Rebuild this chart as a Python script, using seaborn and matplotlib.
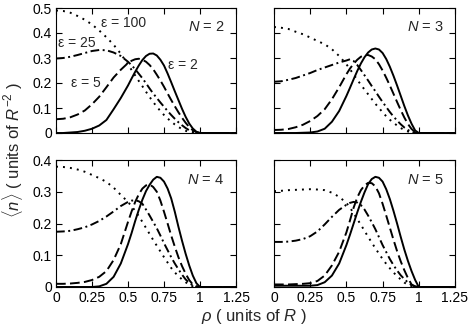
import numpy as np
import pandas as pd
import matplotlib
matplotlib.use("Agg")
import matplotlib.pyplot as plt
import seaborn as sns

# ---------------- data ----------------
rho = [0.00, 0.05, 0.10, 0.15, 0.20, 0.25, 0.30, 0.35, 0.40, 0.45,
       0.500, 0.525, 0.550, 0.575, 0.600, 0.625, 0.650, 0.675, 0.700, 0.725,
       0.750, 0.775, 0.800, 0.825, 0.850, 0.875, 0.900, 0.925, 0.950, 0.975,
       1.000, 1.25]

# N = 2
n2_eps2 = [0.000, 0.000, 0.002, 0.004, 0.009, 0.017, 0.030, 0.052, 0.095, 0.140,
           0.190, 0.218, 0.245, 0.270, 0.292, 0.308, 0.317, 0.318, 0.310, 0.293,
           0.270, 0.238, 0.203, 0.167, 0.132, 0.097, 0.065, 0.038, 0.018, 0.005,
           0.000, 0.000]
n2_eps5 = [0.055, 0.057, 0.063, 0.074, 0.090, 0.115, 0.145, 0.183, 0.222, 0.253,
           0.280, 0.289, 0.295, 0.297, 0.293, 0.285, 0.272, 0.255, 0.233, 0.210,
           0.185, 0.158, 0.132, 0.107, 0.083, 0.061, 0.041, 0.024, 0.011, 0.003,
           0.000, 0.000]
n2_eps25 = [0.298, 0.300, 0.305, 0.312, 0.320, 0.328, 0.332, 0.331, 0.322, 0.308,
            0.285, 0.271, 0.255, 0.237, 0.219, 0.199, 0.178, 0.158, 0.140, 0.122,
            0.105, 0.088, 0.072, 0.057, 0.043, 0.031, 0.020, 0.011, 0.005, 0.001,
            0.000, 0.000]
n2_eps100 = [0.490, 0.488, 0.481, 0.468, 0.453, 0.434, 0.410, 0.383, 0.353, 0.317,
             0.274, 0.252, 0.230, 0.208, 0.187, 0.165, 0.144, 0.124, 0.105, 0.088,
             0.072, 0.058, 0.046, 0.034, 0.024, 0.016, 0.009, 0.004, 0.001, 0.000,
             0.000, 0.000]

# N = 3
n3_eps2 = [0.000, 0.000, 0.000, 0.000, 0.001, 0.002, 0.006, 0.017, 0.045, 0.088,
           0.148, 0.181, 0.215, 0.248, 0.278, 0.303, 0.322, 0.334, 0.338, 0.334,
           0.320, 0.296, 0.265, 0.229, 0.190, 0.149, 0.108, 0.070, 0.037, 0.010,
           0.000, 0.000]
n3_eps5 = [0.012, 0.013, 0.016, 0.023, 0.033, 0.048, 0.068, 0.095, 0.135, 0.183,
           0.235, 0.258, 0.277, 0.293, 0.305, 0.311, 0.312, 0.306, 0.295, 0.275,
           0.250, 0.221, 0.190, 0.157, 0.124, 0.092, 0.062, 0.036, 0.016, 0.004,
           0.000, 0.000]
n3_eps25 = [0.205, 0.207, 0.213, 0.220, 0.230, 0.240, 0.252, 0.262, 0.272, 0.282,
            0.290, 0.295, 0.288, 0.272, 0.252, 0.231, 0.210, 0.188, 0.167, 0.145,
            0.124, 0.104, 0.084, 0.066, 0.050, 0.035, 0.022, 0.012, 0.004, 0.001,
            0.000, 0.000]
n3_eps100 = [0.424, 0.421, 0.416, 0.405, 0.395, 0.382, 0.368, 0.355, 0.335, 0.308,
             0.275, 0.255, 0.234, 0.213, 0.193, 0.174, 0.155, 0.136, 0.117, 0.100,
             0.083, 0.067, 0.053, 0.041, 0.030, 0.020, 0.012, 0.006, 0.002, 0.000,
             0.000, 0.000]

# N = 4
n4_eps2 = [0.000, 0.000, 0.000, 0.000, 0.000, 0.000, 0.002, 0.010, 0.032, 0.074,
           0.135, 0.170, 0.208, 0.243, 0.275, 0.302, 0.322, 0.338, 0.347, 0.344,
           0.332, 0.310, 0.279, 0.237, 0.190, 0.146, 0.105, 0.068, 0.036, 0.012,
           0.000, 0.000]
n4_eps5 = [0.010, 0.010, 0.011, 0.013, 0.016, 0.022, 0.032, 0.050, 0.085, 0.135,
           0.205, 0.238, 0.268, 0.292, 0.310, 0.320, 0.323, 0.315, 0.300, 0.272,
           0.237, 0.200, 0.162, 0.127, 0.094, 0.066, 0.042, 0.022, 0.008, 0.002,
           0.000, 0.000]
n4_eps25 = [0.174, 0.175, 0.177, 0.182, 0.188, 0.197, 0.208, 0.222, 0.238, 0.255,
            0.268, 0.272, 0.273, 0.270, 0.262, 0.244, 0.225, 0.205, 0.185, 0.162,
            0.138, 0.116, 0.094, 0.074, 0.056, 0.039, 0.024, 0.013, 0.005, 0.001,
            0.000, 0.000]
n4_eps100 = [0.379, 0.378, 0.375, 0.370, 0.363, 0.353, 0.343, 0.331, 0.313, 0.290,
             0.268, 0.254, 0.240, 0.223, 0.205, 0.186, 0.167, 0.148, 0.130, 0.112,
             0.094, 0.077, 0.060, 0.046, 0.034, 0.024, 0.015, 0.008, 0.002, 0.000,
             0.000, 0.000]

# N = 5
n5_eps2 = [0.004, 0.004, 0.004, 0.004, 0.004, 0.004, 0.006, 0.015, 0.036, 0.074,
           0.132, 0.165, 0.200, 0.235, 0.268, 0.298, 0.324, 0.340, 0.347, 0.344,
           0.332, 0.308, 0.277, 0.240, 0.200, 0.158, 0.118, 0.082, 0.050, 0.022,
           0.000, 0.000]
n5_eps5 = [0.008, 0.008, 0.008, 0.009, 0.010, 0.012, 0.019, 0.036, 0.068, 0.111,
           0.172, 0.210, 0.250, 0.282, 0.305, 0.320, 0.328, 0.327, 0.317, 0.295,
           0.262, 0.225, 0.187, 0.149, 0.113, 0.081, 0.053, 0.028, 0.008, 0.002,
           0.000, 0.000]
n5_eps25 = [0.142, 0.142, 0.143, 0.146, 0.151, 0.160, 0.175, 0.197, 0.221, 0.243,
            0.259, 0.265, 0.268, 0.266, 0.258, 0.244, 0.225, 0.204, 0.182, 0.157,
            0.132, 0.110, 0.088, 0.069, 0.052, 0.037, 0.025, 0.014, 0.006, 0.001,
            0.000, 0.000]
n5_eps100 = [0.302, 0.303, 0.305, 0.306, 0.307, 0.308, 0.307, 0.305, 0.297, 0.284,
             0.265, 0.250, 0.232, 0.214, 0.196, 0.177, 0.158, 0.140, 0.122, 0.105,
             0.088, 0.073, 0.059, 0.046, 0.034, 0.024, 0.014, 0.007, 0.003, 0.000,
             0.000, 0.000]

eps_levels = ["2", "5", "25", "100"]
panel_N = [2, 3, 4, 5]
panel_data = {
    2: [n2_eps2, n2_eps5, n2_eps25, n2_eps100],
    3: [n3_eps2, n3_eps5, n3_eps25, n3_eps100],
    4: [n4_eps2, n4_eps5, n4_eps25, n4_eps100],
    5: [n5_eps2, n5_eps5, n5_eps25, n5_eps100],
}
x_ticks = [0, 0.25, 0.5, 0.75, 1, 1.25]
x_ticklabels = ["0", "0.25", "0.5", "0.75", "1", "1.25"]
y_ticks_top = [0, 0.1, 0.2, 0.3, 0.4, 0.5]
y_ticks_bottom = [0, 0.1, 0.2, 0.3, 0.4]

# ---------------- style ----------------
sns.set_style("ticks")
plt.rcParams["font.family"] = ["Liberation Sans", "DejaVu Sans"]
plt.rcParams["mathtext.fontset"] = "custom"
plt.rcParams["mathtext.rm"] = "Liberation Sans"
plt.rcParams["mathtext.it"] = "Liberation Sans:italic"
plt.rcParams["axes.linewidth"] = 0.8
plt.rcParams["axes.edgecolor"] = "black"

dash_map = {"2": "", "5": (5, 2.2), "25": (4.5, 1.8, 1.0, 1.8), "100": (1.0, 2.6)}

fig = plt.figure(figsize=(4.71, 3.26), dpi=100)
W, H = 471.0, 326.0
boxes = {
    2: (56 / W, 1 - 133 / H, 180 / W, 125 / H),
    3: (274 / W, 1 - 133 / H, 181 / W, 125 / H),
    4: (56 / W, 1 - 287 / H, 180 / W, 127 / H),
    5: (274 / W, 1 - 287 / H, 181 / W, 127 / H),
}

for N in panel_N:
    ax = fig.add_axes(boxes[N])
    rows = []
    for lev, vals in zip(eps_levels, panel_data[N]):
        for xv, yv in zip(rho, vals):
            rows.append({"rho": xv, "n": yv, "eps": lev})
    df = pd.DataFrame(rows)
    sns.lineplot(data=df, x="rho", y="n", style="eps", style_order=eps_levels,
                 dashes=dash_map, color="black", linewidth=1.4, estimator=None,
                 sort=False, legend=False, ax=ax)
    top = N in (2, 3)
    ax.set_xlim(0, 1.25)
    ax.set_ylim(0, 0.5 if top else 0.4)
    ax.set_xticks(x_ticks)
    ax.set_yticks(y_ticks_top if top else y_ticks_bottom)
    ax.tick_params(direction="in", top=True, right=True, length=4, width=0.8,
                   labelsize=10, pad=3, colors="black")
    if top:
        ax.set_xticklabels([])
    else:
        ax.set_xticklabels(x_ticklabels)
    if N in (3, 5):
        ax.set_yticklabels([])
    else:
        ax.set_yticklabels([("%g" % v) for v in (y_ticks_top if top else y_ticks_bottom)])
    ax.set_xlabel("")
    ax.set_ylabel("")
    for s in ax.spines.values():
        s.set_visible(True)
        s.set_linewidth(0.8)
    ax.text(0.935, 0.845, r"$N$ = %d" % N, transform=ax.transAxes, ha="right",
            va="center", fontsize=10.5)
    if N == 2:
        ax.text(0.31, 0.44, "ε = 100", ha="left", va="center", fontsize=10)
        ax.text(0.012, 0.36, "ε = 25", ha="left", va="center", fontsize=10)
        ax.text(0.78, 0.272, "ε = 2", ha="left", va="center", fontsize=10)
        ax.text(0.105, 0.20, "ε = 5", ha="left", va="center", fontsize=10)

fig.text(254 / W, 1 - 316 / H, r"$\rho$ ( units of $R$ )", ha="center", va="center",
         fontsize=12)
fig.text(13 / W, 1 - 150 / H, r"$\langle n\rangle$ ( units of $R^{-2}$ )", ha="center",
         va="center", rotation=90, fontsize=12)

fig.savefig("out.png", dpi=100)
